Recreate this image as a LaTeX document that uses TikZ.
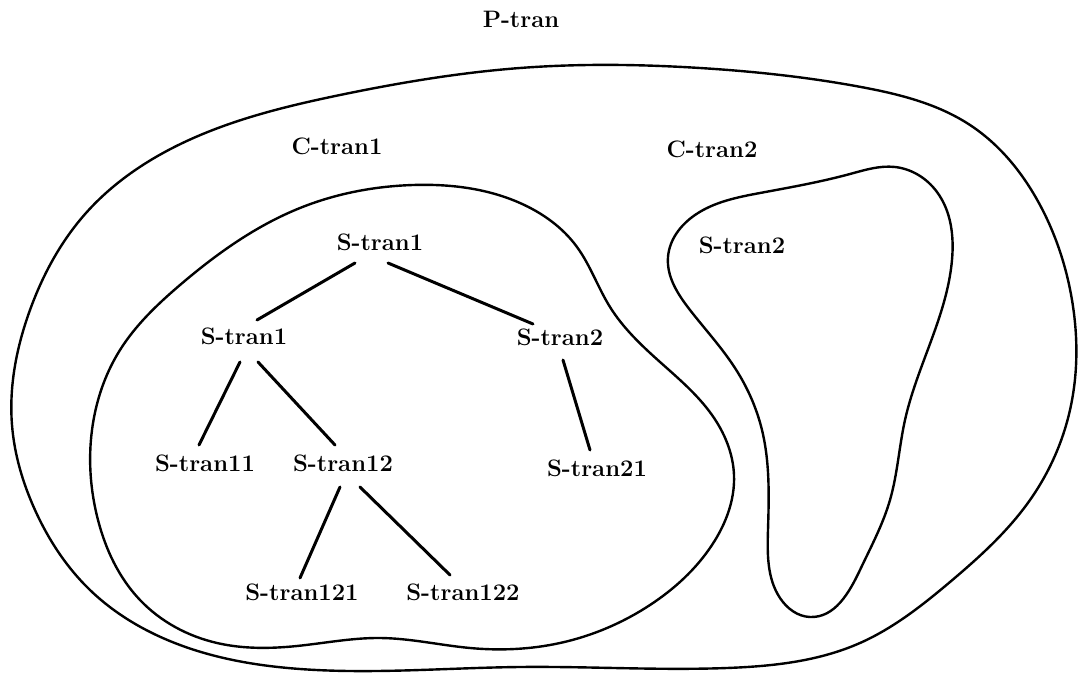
\documentclass[tikz,border=0pt]{standalone}
\usetikzlibrary{hobby}
\begin{document}
\begin{tikzpicture}[x=0.5pt,y=-0.5pt,
  lbl/.style={font=\fontsize{11.9}{13}\selectfont\bfseries, inner sep=0pt},
  treeedge/.style={line width=1.5pt, line cap=round},
  region/.style={line width=1.2pt, line join=round, use Hobby shortcut, closed=true}]
\useasboundingbox (0,0) rectangle (1078,674);
\fill[white] (0,0) rectangle (1078,674);

% outer region (P-tran)
\draw[region] (12,425) .. (30,310) .. (86,213) .. (189,140) .. (340,95) .. (520,68)
 .. (700,68) .. (861,87) .. (970,125) .. (1040,205) .. (1072,300) .. (1070,410)
 .. (1030,500) .. (950,582) .. (860,643) .. (727,668) .. (520,667) .. (300,669)
 .. (180,645) .. (90,590) .. (35,510);

% C-tran1 region
\draw[region] (300,208) .. (413,185) .. (520,203) .. (577,247) .. (610,307)
 .. (660,362) .. (712,415) .. (734,475) .. (712,545) .. (650,605) .. (560,643)
 .. (470,648) .. (380,638) .. (297,646) .. (217,643) .. (140,600) .. (98,520)
 .. (92,430) .. (120,350) .. (180,285);

% S-tran2 region
\draw[region] (668,257) .. (695,215) .. (760,193) .. (850,174) .. (895,167)
 .. (937,192) .. (952,260) .. (935,330) .. (905,420) .. (890,500) .. (860,570)
 .. (810,617) .. (780,598) .. (768,530) .. (762,430) .. (735,368) .. (690,310);

% labels
\node[lbl] (ptran) at (521,19) {P-tran};
\node[lbl] (ctran1) at (337,146) {C-tran1};
\node[lbl] (ctran2) at (712,149) {C-tran2};
\node[lbl] (stran2r) at (742,245) {S-tran2};

% tree nodes
\node[lbl] (t0) at (380,242) {S-tran1};
\node[lbl] (t1) at (244,336) {S-tran1};
\node[lbl] (t2) at (560,337) {S-tran2};
\node[lbl] (t11) at (205,463) {S-tran11};
\node[lbl] (t12) at (343,463) {S-tran12};
\node[lbl] (t21) at (597,468) {S-tran21};
\node[lbl] (t121) at (302,592) {S-tran121};
\node[lbl] (t122) at (463,592) {S-tran122};

% tree edges
\draw[treeedge] ([shift={(-25,21)}]t0.center) -- ([shift={(13,-16)}]t1.center);
\draw[treeedge] ([shift={(8,21)}]t0.center) -- ([shift={(-27,-13)}]t2.center);
\draw[treeedge] ([shift={(-4,26)}]t1.center) -- ([shift={(-6,-18)}]t11.center);
\draw[treeedge] ([shift={(14,26)}]t1.center) -- ([shift={(-8,-18)}]t12.center);
\draw[treeedge] ([shift={(3,23)}]t2.center) -- ([shift={(-7,-18)}]t21.center);
\draw[treeedge] ([shift={(-3,24)}]t12.center) -- ([shift={(-2,-14)}]t121.center);
\draw[treeedge] ([shift={(17,24)}]t12.center) -- ([shift={(-13,-17)}]t122.center);
\end{tikzpicture}
\end{document}
